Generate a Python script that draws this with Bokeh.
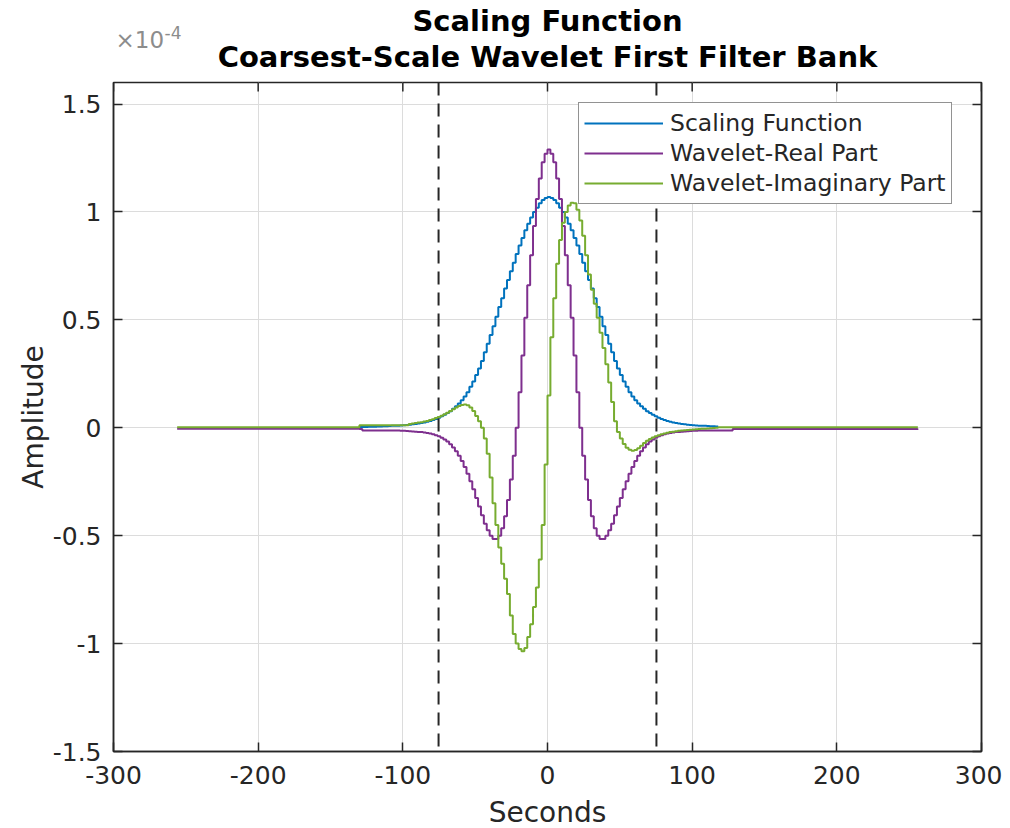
from bokeh.plotting import figure
from bokeh.layouts import column
from bokeh.models import (Range1d, LinearAxis, FixedTicker, Span, Label,
                          CustomJSTickFormatter)
from bokeh.embed import file_html
from bokeh.resources import INLINE

# ---------------- data (amplitude in units of 1e-4) ----------------
title_lines = ["Scaling Function", "Coarsest-Scale Wavelet First Filter Bank"]
exponent_text = ["\u00d710", "-4"]
series_names = ["Scaling Function", "Wavelet-Real Part", "Wavelet-Imaginary Part"]
series_colors = ["#0072BD", "#7E2F8E", "#77AC30"]

x_ticks = [-300, -200, -100, 0, 100, 200, 300]
x_tick_labels = ["-300", "-200", "-100", "0", "100", "200", "300"]
y_ticks = [-1.5, -1, -0.5, 0, 0.5, 1, 1.5]
y_tick_labels = ["-1.5", "-1", "-0.5", "0", "0.5", "1", "1.5"]

support_edges = [-256, 256]          # seconds, ends of the wavelet filters
boundary_sec = [-75.3, 75.3]         # dashed vertical markers

# Scaling function, seconds -130 ... 118 (2 s steps)
scaling_x = list(range(-130, 120, 2))
scaling_e4 = [
    0.004, 0.004, 0.004, 0.005, 0.005, 0.005, 0.006, 0.006, 0.007, 0.007,
    0.008, 0.009, 0.009, 0.010, 0.011, 0.012, 0.013, 0.014, 0.016, 0.018,
    0.020, 0.022, 0.025, 0.028, 0.032, 0.036, 0.041, 0.047, 0.053, 0.060,
    0.068, 0.077, 0.088, 0.100, 0.113, 0.128, 0.145, 0.165, 0.190, 0.215,
    0.245, 0.275, 0.310, 0.350, 0.390, 0.430, 0.470, 0.515, 0.560, 0.600,
    0.645, 0.685, 0.725, 0.765, 0.805, 0.845, 0.880, 0.915, 0.945, 0.975,
    1.000, 1.020, 1.040, 1.055, 1.065, 1.070, 1.065, 1.055, 1.040, 1.020,
    1.000, 0.975, 0.945, 0.915, 0.880, 0.845, 0.805, 0.765, 0.725, 0.685,
    0.645, 0.600, 0.560, 0.515, 0.470, 0.430, 0.390, 0.350, 0.310, 0.275,
    0.245, 0.215, 0.190, 0.165, 0.145, 0.128, 0.113, 0.100, 0.088, 0.077,
    0.068, 0.060, 0.053, 0.047, 0.041, 0.036, 0.032, 0.028, 0.025, 0.022,
    0.020, 0.018, 0.016, 0.014, 0.013, 0.012, 0.011, 0.010, 0.009, 0.009,
    0.008, 0.007, 0.007, 0.006, 0.006,
]

# Wavelets, seconds -130 ... 130 (2 s steps); flat tails out to +-256 s
wavelet_x = list(range(-130, 132, 2))
real_tail_e4 = -0.005
imag_tail_e4 = 0.003
real_e4 = [
    -0.006, -0.012, -0.012, -0.012, -0.012, -0.012, -0.012, -0.012, -0.012, -0.012,
    -0.012, -0.012, -0.012, -0.013, -0.014, -0.014, -0.015, -0.016, -0.017, -0.018,
    -0.019, -0.020, -0.022, -0.024, -0.027, -0.030, -0.034, -0.039, -0.046, -0.054,
    -0.064, -0.076, -0.091, -0.109, -0.130, -0.154, -0.182, -0.213, -0.248, -0.285,
    -0.325, -0.365, -0.405, -0.445, -0.475, -0.500, -0.515, -0.515, -0.500, -0.465,
    -0.410, -0.335, -0.240, -0.130, 0.000, 0.165, 0.335, 0.510, 0.660, 0.800,
    0.935, 1.060, 1.155, 1.230, 1.270, 1.290, 1.270, 1.230, 1.155, 1.060,
    0.935, 0.800, 0.660, 0.510, 0.335, 0.165, 0.000, -0.130, -0.240, -0.335,
    -0.410, -0.465, -0.500, -0.515, -0.515, -0.500, -0.475, -0.445, -0.405, -0.365,
    -0.325, -0.285, -0.248, -0.213, -0.182, -0.154, -0.130, -0.109, -0.091, -0.076,
    -0.064, -0.054, -0.046, -0.039, -0.034, -0.030, -0.027, -0.024, -0.022, -0.020,
    -0.019, -0.018, -0.017, -0.016, -0.015, -0.014, -0.014, -0.013, -0.012, -0.012,
    -0.012, -0.012, -0.012, -0.012, -0.012, -0.012, -0.012, -0.012, -0.012, -0.006,
    -0.006,
]
imag_e4 = [
    0.012, 0.012, 0.012, 0.012, 0.012, 0.012, 0.012, 0.012, 0.012, 0.012,
    0.012, 0.012, 0.012, 0.012, 0.012, 0.012, 0.012, 0.018, 0.020, 0.022,
    0.024, 0.026, 0.029, 0.032, 0.036, 0.040, 0.045, 0.050, 0.056, 0.063,
    0.070, 0.078, 0.086, 0.094, 0.101, 0.106, 0.108, 0.104, 0.094, 0.078,
    0.055, 0.030, 0.000, -0.050, -0.120, -0.230, -0.350, -0.450, -0.555, -0.630,
    -0.700, -0.770, -0.870, -0.955, -1.000, -1.025, -1.035, -1.020, -0.970, -0.910,
    -0.830, -0.740, -0.610, -0.450, -0.170, 0.150, 0.420, 0.600, 0.760, 0.870,
    0.950, 1.000, 1.030, 1.043, 1.040, 1.010, 0.960, 0.890, 0.800, 0.710,
    0.640, 0.575, 0.510, 0.440, 0.370, 0.295, 0.210, 0.120, 0.030, -0.020,
    -0.050, -0.075, -0.092, -0.102, -0.106, -0.103, -0.095, -0.083, -0.070, -0.060,
    -0.052, -0.045, -0.039, -0.034, -0.030, -0.026, -0.023, -0.020, -0.018, -0.016,
    -0.014, -0.012, -0.011, -0.010, -0.009, -0.008, -0.007, -0.006, -0.005, -0.004,
    -0.003, -0.002, -0.001, 0.000, 0.002, 0.003, 0.003, 0.003, 0.003, 0.003,
    0.003,
]

# ---------------- layout constants ----------------
FONT = "DejaVu Sans"
AX = "#262626"
HEAD_H = 80
Y_TOP = 1.6

# ---------------- heading strip (titles and axis exponent) ----------------
head = figure(frame_width=868, frame_height=HEAD_H,
              x_range=Range1d(-300, 300), y_range=Range1d(0, HEAD_H),
              output_backend="svg", toolbar_location=None,
              min_border_left=113, min_border_right=21,
              min_border_top=0, min_border_bottom=0,
              background_fill_color="white", border_fill_color="white")
head.axis.visible = False
head.grid.visible = False
head.outline_line_color = None
head.add_layout(Label(x=0, y=59.5, text=title_lines[0], text_align="center",
                      text_baseline="alphabetic", text_font=FONT,
                      text_font_style="bold", text_font_size="29px",
                      text_color="black"))
head.add_layout(Label(x=0, y=23.5, text=title_lines[1], text_align="center",
                      text_baseline="alphabetic", text_font=FONT,
                      text_font_style="bold", text_font_size="29px",
                      text_color="black"))
head.add_layout(Label(x=-300, y=41, x_offset=2, text=exponent_text[0],
                      text_align="left", text_baseline="alphabetic",
                      text_font=FONT, text_font_size="23px",
                      text_color="#8c8c8c"))
head.add_layout(Label(x=-300, y=48, x_offset=51, text=exponent_text[1],
                      text_align="left", text_baseline="alphabetic",
                      text_font=FONT, text_font_size="17px",
                      text_color="#8c8c8c"))

# ---------------- main axes ----------------
p = figure(frame_width=868, frame_height=669,
           x_range=Range1d(-300, 300), y_range=Range1d(-1.5, Y_TOP),
           output_backend="svg", toolbar_location=None,
           min_border_left=113, min_border_right=21,
           min_border_top=2, min_border_bottom=76,
           background_fill_color="white", border_fill_color="white")
p.outline_line_color = AX
p.outline_line_width = 1.5

def fmt(tvals, tlabels):
    return CustomJSTickFormatter(args=dict(tvals=tvals, tlabels=tlabels), code="""
        for (let i = 0; i < tvals.length; i++) {
            if (Math.abs(tvals[i] - tick) < 1e-9) { return tlabels[i]; }
        }
        return '';
    """)

for ax, tv, tl in ((p.xaxis[0], x_ticks, x_tick_labels),
                   (p.yaxis[0], y_ticks, y_tick_labels)):
    ax.ticker = FixedTicker(ticks=tv)
    ax.formatter = fmt(tv, tl)
    ax.major_label_text_font = FONT
    ax.major_label_text_font_size = "25px"
    ax.major_label_text_color = AX
    ax.axis_label_text_font = FONT
    ax.axis_label_text_font_size = "28px"
    ax.axis_label_text_font_style = "normal"
    ax.axis_label_text_color = AX
    ax.major_tick_in = 9
    ax.major_tick_out = 0
    ax.minor_tick_line_color = None
    ax.axis_line_color = AX
    ax.axis_line_width = 1.5
    ax.major_tick_line_color = AX
    ax.major_tick_line_width = 1.5

p.xaxis.axis_label = "Seconds"
p.yaxis.axis_label = "Amplitude"
p.xaxis.major_label_standoff = 14
p.yaxis.major_label_standoff = 12
p.xaxis.axis_label_standoff = 9
p.yaxis.axis_label_standoff = 0

right_ax = LinearAxis(ticker=FixedTicker(ticks=y_ticks),
                      formatter=CustomJSTickFormatter(code="return '';"),
                      major_tick_in=9, major_tick_out=0,
                      minor_tick_line_color=None,
                      axis_line_color=AX, axis_line_width=1.5,
                      major_tick_line_color=AX, major_tick_line_width=1.5,
                      major_label_standoff=0)
p.add_layout(right_ax, "right")

# inward tick marks along the top edge of the box
tick_len = 9 * (Y_TOP + 1.5) / 669
p.segment(x0=x_ticks, y0=[Y_TOP] * len(x_ticks), x1=x_ticks,
          y1=[Y_TOP - tick_len] * len(x_ticks), line_color=AX, line_width=1.5)

p.xgrid.ticker = FixedTicker(ticks=x_ticks)
p.ygrid.ticker = FixedTicker(ticks=y_ticks)
p.grid.grid_line_color = "#dcdcdc"
p.grid.grid_line_width = 1

# ---------------- lines ----------------
p.step(scaling_x, scaling_e4, mode="after", line_color=series_colors[0],
       line_width=2, legend_label=series_names[0])
p.step([support_edges[0]] + wavelet_x + [support_edges[1]],
       [real_tail_e4] + real_e4 + [real_tail_e4], mode="after",
       line_color=series_colors[1], line_width=2, legend_label=series_names[1])
p.step([support_edges[0]] + wavelet_x + [support_edges[1]],
       [imag_tail_e4] + imag_e4 + [imag_tail_e4], mode="after",
       line_color=series_colors[2], line_width=2, legend_label=series_names[2])

for b in boundary_sec:
    p.add_layout(Span(location=b, dimension="height", line_color=AX,
                      line_dash="13 8", line_width=2))

# ---------------- legend ----------------
lg = p.legend[0]
lg.location = (465, 547)
lg.label_text_font = FONT
lg.label_text_font_size = "23.5px"
lg.label_text_color = AX
lg.glyph_width = 79
lg.glyph_height = 30
lg.label_height = 30
lg.label_standoff = 7
lg.spacing = 0
lg.padding = 5
lg.margin = 0
lg.border_line_color = AX
lg.border_line_width = 1.5
lg.background_fill_color = "white"
lg.background_fill_alpha = 1.0

page = column(head, p, spacing=0)
open("out.html", "w").write(file_html(page, INLINE))
